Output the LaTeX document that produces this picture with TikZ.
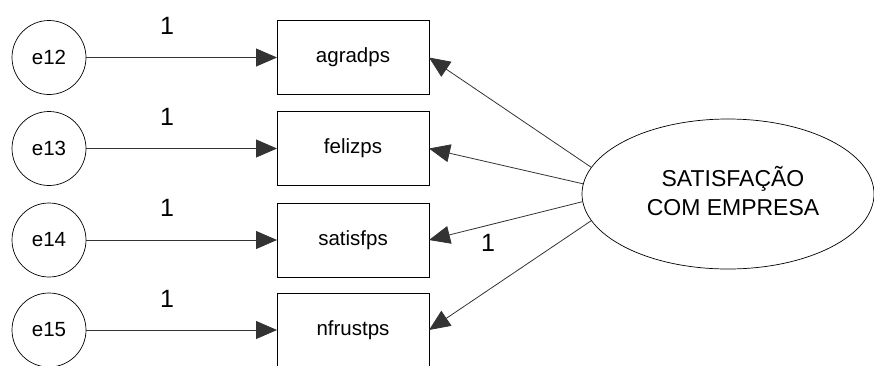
\documentclass[tikz,border=0pt]{standalone}
\usepackage{fontspec}
\setmainfont{Liberation Sans}
\usetikzlibrary{shapes.geometric,arrows.meta}
\begin{document}
\begin{tikzpicture}[x=1pt,y=-1pt,
  every node/.style={inner sep=0pt, outer sep=0pt},
  errvar/.style={circle, draw, line width=0.7pt, minimum size=74pt, font=\fontsize{20.5}{24}\selectfont},
  obsvar/.style={rectangle, draw, line width=0.8pt, minimum width=152pt, minimum height=74pt, font=\fontsize{20.5}{24}\selectfont},
  latvar/.style={ellipse, draw, line width=0.7pt, minimum width=292pt, minimum height=150pt},
  lattext/.style={align=center, font=\fontsize{23}{29}\selectfont},
  path/.style={draw=black!80, line width=0.8pt, -{Triangle[length=21pt,width=18pt]}},
  weight/.style={font=\fontsize{25}{28}\selectfont}]
\useasboundingbox (0,0) rectangle (874,365);

% error terms
\node[errvar] (e12) at (49,57.5) {e12};
\node[errvar] (e13) at (49,148.5) {e13};
\node[errvar] (e14) at (49,240) {e14};
\node[errvar] (e15) at (49,330) {e15};

% observed indicators
\node[obsvar] (agradps) at (353,57.5) {agradps};
\node[obsvar] (felizps) at (353,148.5) {felizps};
\node[obsvar] (satisfps) at (353,240) {satisfps};
\node[obsvar] (nfrustps) at (353,330) {nfrustps};

% latent factor
\node[latvar] (sat) at (728,194) {};
\node[lattext] (satlabel) at (733,191) {SATISFAÇÃO\\COM EMPRESA};

% error paths
\draw[path] (e12) -- (agradps);
\draw[path] (e13) -- (felizps);
\draw[path] (e14) -- (satisfps);
\draw[path] (e15) -- (nfrustps);

% factor loadings
\draw[path] (sat.169) -- (agradps.east);
\draw[path] (sat.176.5) -- (felizps.east);
\draw[path] (sat.183.5) -- (satisfps.east);
\draw[path] (sat.191) -- (nfrustps.east);

% fixed weights
\node[weight] (w12) at (167,26) {1};
\node[weight] (w13) at (167,117) {1};
\node[weight] (w14) at (167,208) {1};
\node[weight] (w15) at (167,299) {1};
\node[weight] (w3) at (488,243) {1};
\end{tikzpicture}
\end{document}
